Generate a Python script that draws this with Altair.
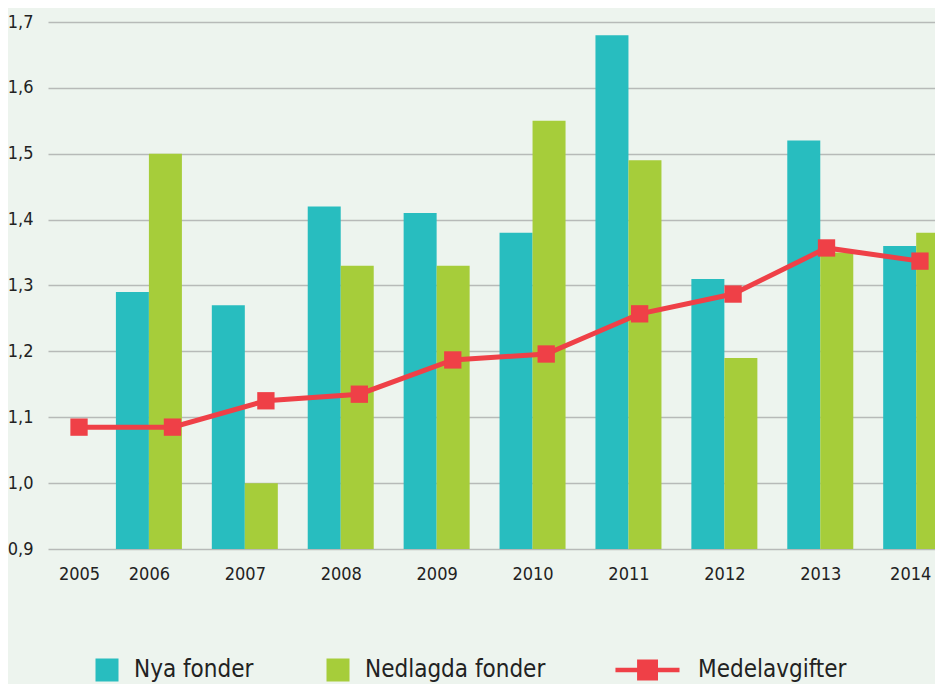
import altair as alt
import pandas as pd

# ---- data ----
years = [2005, 2006, 2007, 2008, 2009, 2010, 2011, 2012, 2013, 2014]
nya_fonder = [None, 1.29, 1.27, 1.42, 1.41, 1.38, 1.68, 1.31, 1.52, 1.36]
nedlagda_fonder = [None, 1.50, 1.00, 1.33, 1.33, 1.55, 1.49, 1.19, 1.35, 1.38]
medelavgifter = [1.085, 1.085, 1.125, 1.135, 1.187, 1.196, 1.257, 1.287, 1.357, 1.337]
y_ticks = [0.9, 1.0, 1.1, 1.2, 1.3, 1.4, 1.5, 1.6, 1.7]
bar_series = ["Nya fonder", "Nedlagda fonder"]
line_series = ["Medelavgifter"]

# ---- style ----
TEAL = "#28bdbf"
GREEN = "#a6cd3a"
RED = "#ef4047"
BG = "#edf4ee"
GRID = "#b7bab8"
TEXT = "#222222"
FONT = "Liberation Sans Narrow, DejaVu Sans Condensed, sans-serif"

bars_df = pd.DataFrame({
    "year": years + years,
    "series": [bar_series[0]] * len(years) + [bar_series[1]] * len(years),
    "value": nya_fonder + nedlagda_fonder,
}).dropna()
line_df = pd.DataFrame({"year": years, "series": line_series[0], "value": medelavgifter})

y_scale = alt.Scale(domain=[0.9, 1.7], nice=False, zero=False)
y_axis = alt.Axis(
    values=y_ticks,
    labelExpr="replace(format(datum.value, '.1f'), '.', ',')",
    title=None, domain=False, ticks=False, grid=True,
    gridColor=GRID, gridWidth=1.5,
    labelPadding=15, labelFontSize=18, labelColor=TEXT, labelFont=FONT,
)
y_enc = alt.Y("value:Q", scale=y_scale, axis=y_axis)

bar_x = alt.X(
    "year:Q",
    scale=alt.Scale(domain=[2005, 2014.144], nice=False, zero=False),
    axis=alt.Axis(
        values=years, format="d", title=None, grid=False, domain=False, ticks=False,
        labelPadding=16, labelFontSize=18, labelColor=TEXT, labelFont=FONT,
        labelFlush=False,
        labelOffset={
            "condition": [
                {"test": "datum.value == 2005", "value": 26},
                {"test": "datum.value == 2014", "value": -6},
            ],
            "value": 0,
        },
    ),
)

bar_color = alt.Color(
    "series:N",
    scale=alt.Scale(domain=bar_series, range=[TEAL, GREEN]),
    legend=alt.Legend(
        orient="none", legendX=47, legendY=636, direction="horizontal", title=None,
        symbolType="square", symbolSize=529, symbolStrokeWidth=0, symbolOpacity=1,
        labelFontSize=24, labelFont=FONT, labelColor=TEXT, labelOffset=15,
        columnPadding=72, labelLimit=400,
    ),
)

nya = alt.Chart(bars_df).transform_filter(
    alt.datum.series == bar_series[0]
).mark_bar(size=33, xOffset=-16.5).encode(
    x=bar_x, y=y_enc, y2=alt.datum(0.9), color=bar_color
)
ned = alt.Chart(bars_df).transform_filter(
    alt.datum.series == bar_series[1]
).mark_bar(size=33, xOffset=16.5).encode(
    x=bar_x, y=y_enc, y2=alt.datum(0.9), color=bar_color
)

line_x = alt.X("year:Q", scale=alt.Scale(domain=[2004.668, 2014.161], nice=False, zero=False), axis=None)

LEGEND_PATH = "M-4.83,-0.2H0.74V0.2H-4.83Z M-2.95,-0.91H-1.13V0.91H-2.95Z"

line = alt.Chart(line_df).mark_line(color=RED, strokeWidth=5).encode(
    x=line_x, y=y_enc
)
points = alt.Chart(line_df).mark_point(shape="square", filled=True, size=300, opacity=1).encode(
    x=line_x,
    y=y_enc,
    color=alt.Color(
        "series:N",
        scale=alt.Scale(domain=line_series, range=[RED]),
        legend=alt.Legend(
            orient="none", legendX=611, legendY=636, title=None,
            symbolType=LEGEND_PATH, symbolSize=529, symbolStrokeWidth=0, symbolOpacity=1,
            labelFontSize=24, labelFont=FONT, labelColor=TEXT, labelOffset=15, labelLimit=400,
        ),
    ),
)

chart = alt.layer(
    alt.layer(nya, ned),
    alt.layer(line, points),
).resolve_scale(
    x="independent", color="independent"
).properties(
    width=887, height=527,
    autosize=alt.AutoSizeParams(type="none"),
    padding={"left": 40, "top": 14, "right": 0, "bottom": 135},
).configure(
    background=BG, font=FONT
).configure_view(stroke=None)

chart.save("out.html", embed_options={"renderer": "svg", "actions": False})
